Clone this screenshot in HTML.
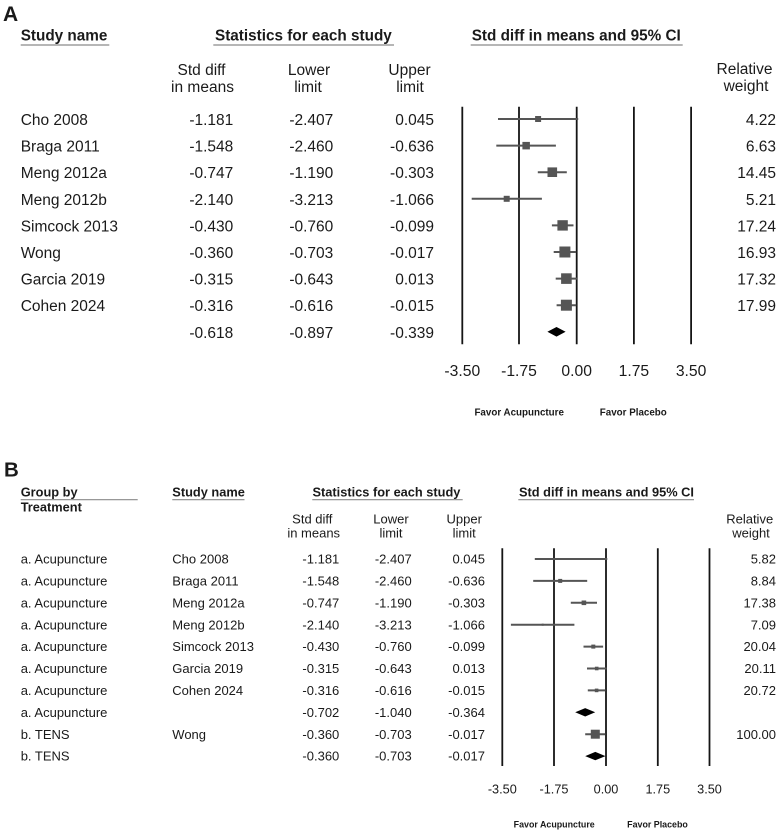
<!DOCTYPE html>
<html><head><meta charset="utf-8"><style>
html,body{margin:0;padding:0;background:#fff;}
svg{display:block;}
text{font-family:"Liberation Sans",Arial,sans-serif;fill:#1a1a1a;}
.b{font-weight:bold;}
.a{font-size:15.5px;}
.ah{font-size:15.3px;font-weight:bold;}
.bb{font-size:13px;}
.bh{font-size:12.8px;font-weight:bold;}
.r{text-anchor:end;}
.m{text-anchor:middle;}
</style></head><body>
<svg width="781" height="832" viewBox="0 0 781 832" xmlns="http://www.w3.org/2000/svg">
<rect width="781" height="832" fill="#fff"/>
<!-- ================= PANEL A ================= -->
<text x="3" y="21" class="b" style="font-size:21px">A</text>
<text x="20.7" y="40.7" class="ah">Study name</text>
<text x="215" y="40.7" class="ah">Statistics for each study</text>
<text x="471.7" y="40.7" class="ah">Std diff in means and 95% CI</text>
<g stroke="#8a8a8a" stroke-width="1.3">
<line x1="20.7" y1="45" x2="109.3" y2="45"/>
<line x1="213.3" y1="45" x2="394" y2="45"/>
<line x1="470.7" y1="45" x2="682.7" y2="45"/>
</g>
<text x="201.5" y="75" class="a m">Std diff</text>
<text x="202.5" y="92" class="a m">in means</text>
<text x="309" y="75" class="a m">Lower</text>
<text x="308" y="92" class="a m">limit</text>
<text x="409.5" y="75" class="a m">Upper</text>
<text x="410" y="92" class="a m">limit</text>
<text x="744.5" y="74" class="a m">Relative</text>
<text x="746" y="91" class="a m">weight</text>

<g class="a">
<text x="20.7" y="125">Cho 2008</text>
<text x="20.7" y="151.6">Braga 2011</text>
<text x="20.7" y="178.2">Meng 2012a</text>
<text x="20.7" y="204.8">Meng 2012b</text>
<text x="20.7" y="231.4">Simcock 2013</text>
<text x="20.7" y="258">Wong</text>
<text x="20.7" y="284.6">Garcia 2019</text>
<text x="20.7" y="311.2">Cohen 2024</text>
</g>
<g class="a r">
<text x="233.3" y="125">-1.181</text><text x="333.3" y="125">-2.407</text><text x="434" y="125">0.045</text><text x="776" y="125">4.22</text>
<text x="233.3" y="151.6">-1.548</text><text x="333.3" y="151.6">-2.460</text><text x="434" y="151.6">-0.636</text><text x="776" y="151.6">6.63</text>
<text x="233.3" y="178.2">-0.747</text><text x="333.3" y="178.2">-1.190</text><text x="434" y="178.2">-0.303</text><text x="776" y="178.2">14.45</text>
<text x="233.3" y="204.8">-2.140</text><text x="333.3" y="204.8">-3.213</text><text x="434" y="204.8">-1.066</text><text x="776" y="204.8">5.21</text>
<text x="233.3" y="231.4">-0.430</text><text x="333.3" y="231.4">-0.760</text><text x="434" y="231.4">-0.099</text><text x="776" y="231.4">17.24</text>
<text x="233.3" y="258">-0.360</text><text x="333.3" y="258">-0.703</text><text x="434" y="258">-0.017</text><text x="776" y="258">16.93</text>
<text x="233.3" y="284.6">-0.315</text><text x="333.3" y="284.6">-0.643</text><text x="434" y="284.6">0.013</text><text x="776" y="284.6">17.32</text>
<text x="233.3" y="311.2">-0.316</text><text x="333.3" y="311.2">-0.616</text><text x="434" y="311.2">-0.015</text><text x="776" y="311.2">17.99</text>
<text x="233.3" y="337.8">-0.618</text><text x="333.3" y="337.8">-0.897</text><text x="434" y="337.8">-0.339</text>
</g>
<!-- axis lines A -->
<g stroke="#151515" stroke-width="1.8">
<line x1="462.3" y1="106.7" x2="462.3" y2="344.3"/>
<line x1="519" y1="106.7" x2="519" y2="344.3"/>
<line x1="576.7" y1="106.7" x2="576.7" y2="344.3"/>
<line x1="633.9" y1="106.7" x2="633.9" y2="344.3"/>
<line x1="691.1" y1="106.7" x2="691.1" y2="344.3"/>
</g>
<!-- CIs A -->
<g stroke="#555" stroke-width="2">
<line x1="498" y1="119" x2="578.2" y2="119"/>
<line x1="496.3" y1="145.6" x2="555.9" y2="145.6"/>
<line x1="537.8" y1="172.2" x2="566.8" y2="172.2"/>
<line x1="471.7" y1="198.8" x2="541.9" y2="198.8"/>
<line x1="551.9" y1="225.4" x2="573.5" y2="225.4"/>
<line x1="553.7" y1="252" x2="576.1" y2="252"/>
<line x1="555.7" y1="278.6" x2="577.1" y2="278.6"/>
<line x1="556.6" y1="305.2" x2="576.2" y2="305.2"/>
</g>
<g fill="#555">
<rect x="535.1" y="116" width="6" height="6"/>
<rect x="522.4" y="141.9" width="7.5" height="7.5"/>
<rect x="547.5" y="167.4" width="9.6" height="9.6"/>
<rect x="503.7" y="195.8" width="6" height="6"/>
<rect x="557.4" y="220.2" width="10.4" height="10.4"/>
<rect x="559.4" y="246.5" width="11" height="11"/>
<rect x="561.1" y="273.3" width="10.6" height="10.6"/>
<rect x="560.9" y="299.7" width="11" height="11"/>
</g>
<polygon points="547.4,331.8 556.5,327 565.6,331.8 556.5,336.6" fill="#000"/>
<g style="font-size:15.7px" class="m">
<text x="462.3" y="376">-3.50</text>
<text x="519" y="376">-1.75</text>
<text x="576.7" y="376">0.00</text>
<text x="633.9" y="376">1.75</text>
<text x="691.1" y="376">3.50</text>
</g>
<text x="519.2" y="415.5" class="b m" style="font-size:9.8px">Favor Acupuncture</text>
<text x="633.3" y="415.5" class="b m" style="font-size:9.8px">Favor Placebo</text>

<!-- ================= PANEL B ================= -->
<text x="4" y="476.7" class="b" style="font-size:20.5px">B</text>
<text x="20.7" y="496.7" class="bh">Group by</text>
<text x="20.7" y="511.7" class="bh">Treatment</text>
<text x="172.3" y="496.7" class="bh">Study name</text>
<text x="312.5" y="496.7" class="bh">Statistics for each study</text>
<text x="519" y="496.7" class="bh">Std diff in means and 95% CI</text>
<g stroke="#8a8a8a" stroke-width="1.2">
<line x1="20.7" y1="499.7" x2="137.7" y2="499.7"/>
<line x1="172.3" y1="499.7" x2="244.5" y2="499.7"/>
<line x1="312.3" y1="499.7" x2="462.7" y2="499.7"/>
<line x1="518.3" y1="499.7" x2="694" y2="499.7"/>
</g>
<text x="312.3" y="523.3" class="bb m">Std diff</text>
<text x="313.7" y="537.7" class="bb m">in means</text>
<text x="391" y="523.3" class="bb m">Lower</text>
<text x="391" y="537.7" class="bb m">limit</text>
<text x="464.2" y="523.3" class="bb m">Upper</text>
<text x="464.2" y="537.7" class="bb m">limit</text>
<text x="749.7" y="523.3" class="bb m">Relative</text>
<text x="751" y="537.7" class="bb m">weight</text>

<g class="bb">
<text x="20.7" y="563.6">a. Acupuncture</text><text x="172.3" y="563.6">Cho 2008</text>
<text x="20.7" y="585.5">a. Acupuncture</text><text x="172.3" y="585.5">Braga 2011</text>
<text x="20.7" y="607.4">a. Acupuncture</text><text x="172.3" y="607.4">Meng 2012a</text>
<text x="20.7" y="629.3">a. Acupuncture</text><text x="172.3" y="629.3">Meng 2012b</text>
<text x="20.7" y="651.2">a. Acupuncture</text><text x="172.3" y="651.2">Simcock 2013</text>
<text x="20.7" y="673.1">a. Acupuncture</text><text x="172.3" y="673.1">Garcia 2019</text>
<text x="20.7" y="695">a. Acupuncture</text><text x="172.3" y="695">Cohen 2024</text>
<text x="20.7" y="716.9">a. Acupuncture</text>
<text x="20.7" y="738.8">b. TENS</text><text x="172.3" y="738.8">Wong</text>
<text x="20.7" y="760.7">b. TENS</text>
</g>
<g class="bb r">
<text x="339.3" y="563.6">-1.181</text><text x="411.7" y="563.6">-2.407</text><text x="485" y="563.6">0.045</text><text x="776" y="563.6">5.82</text>
<text x="339.3" y="585.5">-1.548</text><text x="411.7" y="585.5">-2.460</text><text x="485" y="585.5">-0.636</text><text x="776" y="585.5">8.84</text>
<text x="339.3" y="607.4">-0.747</text><text x="411.7" y="607.4">-1.190</text><text x="485" y="607.4">-0.303</text><text x="776" y="607.4">17.38</text>
<text x="339.3" y="629.3">-2.140</text><text x="411.7" y="629.3">-3.213</text><text x="485" y="629.3">-1.066</text><text x="776" y="629.3">7.09</text>
<text x="339.3" y="651.2">-0.430</text><text x="411.7" y="651.2">-0.760</text><text x="485" y="651.2">-0.099</text><text x="776" y="651.2">20.04</text>
<text x="339.3" y="673.1">-0.315</text><text x="411.7" y="673.1">-0.643</text><text x="485" y="673.1">0.013</text><text x="776" y="673.1">20.11</text>
<text x="339.3" y="695">-0.316</text><text x="411.7" y="695">-0.616</text><text x="485" y="695">-0.015</text><text x="776" y="695">20.72</text>
<text x="339.3" y="716.9">-0.702</text><text x="411.7" y="716.9">-1.040</text><text x="485" y="716.9">-0.364</text>
<text x="339.3" y="738.8">-0.360</text><text x="411.7" y="738.8">-0.703</text><text x="485" y="738.8">-0.017</text><text x="776" y="738.8">100.00</text>
<text x="339.3" y="760.7">-0.360</text><text x="411.7" y="760.7">-0.703</text><text x="485" y="760.7">-0.017</text>
</g>
<!-- axis lines B -->
<g stroke="#151515" stroke-width="1.8">
<line x1="502.3" y1="548.3" x2="502.3" y2="766"/>
<line x1="554" y1="548.3" x2="554" y2="766"/>
<line x1="606" y1="548.3" x2="606" y2="766"/>
<line x1="657.8" y1="548.3" x2="657.8" y2="766"/>
<line x1="709.5" y1="548.3" x2="709.5" y2="766"/>
</g>
<g stroke="#555" stroke-width="2">
<line x1="534.8" y1="559" x2="607.3" y2="559"/>
<line x1="533.2" y1="580.9" x2="587.2" y2="580.9"/>
<line x1="570.8" y1="602.8" x2="597" y2="602.8"/>
<line x1="510.9" y1="624.7" x2="574.4" y2="624.7"/>
<line x1="583.5" y1="646.6" x2="603.1" y2="646.6"/>
<line x1="587" y1="668.5" x2="606.4" y2="668.5"/>
<line x1="587.8" y1="690.4" x2="605.6" y2="690.4"/>
<line x1="585.2" y1="734.2" x2="605.5" y2="734.2"/>
</g>
<g fill="#555">
<rect x="570" y="558" width="2" height="2"/>
<rect x="558.2" y="578.9" width="4" height="4"/>
<rect x="581.6" y="600.5" width="4.6" height="4.6"/>
<rect x="541.7" y="623.7" width="2" height="2"/>
<rect x="591.3" y="644.6" width="4" height="4"/>
<rect x="594.9" y="666.7" width="3.6" height="3.6"/>
<rect x="594.8" y="688.6" width="3.6" height="3.6"/>
<rect x="590.8" y="729.7" width="9" height="9"/>
</g>
<polygon points="575.2,712.3 585.2,708.1 595.2,712.3 585.2,716.5" fill="#000"/>
<polygon points="585.2,756.1 595.3,751.9 605.5,756.1 595.3,760.3" fill="#000"/>
<g style="font-size:12.7px" class="m">
<text x="502.3" y="793.3">-3.50</text>
<text x="554" y="793.3">-1.75</text>
<text x="606" y="793.3">0.00</text>
<text x="657.8" y="793.3">1.75</text>
<text x="709.5" y="793.3">3.50</text>
</g>
<text x="554.2" y="827.5" class="b m" style="font-size:8.9px">Favor Acupuncture</text>
<text x="657.5" y="827.5" class="b m" style="font-size:8.9px">Favor Placebo</text>
</svg>
</body></html>
